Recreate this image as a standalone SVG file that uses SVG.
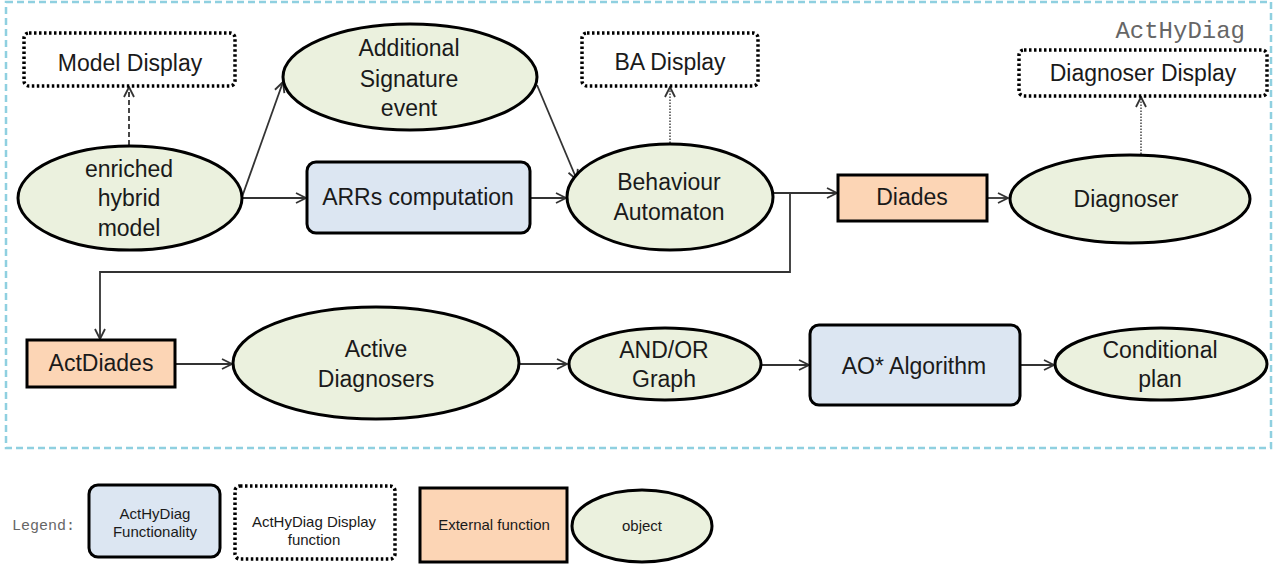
<svg xmlns="http://www.w3.org/2000/svg" width="1282" height="569" viewBox="0 0 1282 569">
<style>
.t{font-family:"Liberation Sans",Arial,sans-serif;font-size:23px;fill:#1a1a1a;text-anchor:middle}
.s{font-family:"Liberation Sans",Arial,sans-serif;font-size:15px;fill:#1a1a1a;text-anchor:middle}
.obj{fill:#ebf1de;stroke:#000;stroke-width:3}
.fun{fill:#dce6f2;stroke:#000;stroke-width:3}
.ext{fill:#fcd5b5;stroke:#000;stroke-width:3}
.dsp{fill:#fff;stroke:#000;stroke-width:3.5;stroke-dasharray:2.5 2.5}
.c{fill:none;stroke:#333;stroke-width:1.8;marker-end:url(#a)}
.cd{fill:none;stroke:#333;stroke-width:1.8;stroke-dasharray:5 3;marker-end:url(#a)}
.cdt{fill:none;stroke:#444;stroke-width:1.5;stroke-dasharray:1.5 1.5;marker-end:url(#a)}
.mono{font-family:"Liberation Mono","Courier New",monospace;fill:#666}
</style>
<defs>
<marker id="a" markerUnits="userSpaceOnUse" markerWidth="14" markerHeight="14" refX="11" refY="6" orient="auto">
<path d="M1,1 L11,6 L1,11" fill="none" stroke="#333" stroke-width="1.8"/>
</marker>
</defs>
<rect x="6" y="2" width="1265" height="446" fill="none" stroke="#8fd0e0" stroke-width="2.5" stroke-dasharray="7 4"/>
<text class="mono" x="1245" y="38" font-size="24" text-anchor="end">ActHyDiag</text>

<g id="connectors">
<path class="cd" d="M129,145 V87"/>
<path class="c" d="M242,197 L283,82"/>
<path class="c" d="M242,198 H306"/>
<path class="c" d="M537,85 L577,180"/>
<path class="c" d="M530,198 H566"/>
<path class="cdt" d="M670,143 V87"/>
<path class="c" d="M773,193 H837"/>
<path class="c" d="M790,193 V272 H100 V339"/>
<path class="c" d="M987,198 H1008"/>
<path class="cdt" d="M1141,154 V97"/>
<path class="c" d="M175,364 H232"/>
<path class="c" d="M519,364 H567"/>
<path class="c" d="M761,365 H809"/>
<path class="c" d="M1020,365 H1054"/>
</g>

<g id="model-display"><rect class="dsp" x="24" y="33" width="211" height="53" rx="5"/><text class="t" x="130" y="71">Model Display</text></g>
<g id="additional-signature-event"><ellipse class="obj" cx="410" cy="77" rx="127" ry="53"/><text class="t" x="409" y="56">Additional</text><text class="t" x="409" y="87">Signature</text><text class="t" x="409" y="116">event</text></g>
<g id="ba-display"><rect class="dsp" x="582" y="33" width="176" height="53" rx="5"/><text class="t" x="670" y="70">BA Display</text></g>
<g id="diagnoser-display"><rect class="dsp" x="1019" y="50" width="248" height="46" rx="5"/><text class="t" x="1143" y="81">Diagnoser Display</text></g>
<g id="enriched-hybrid-model"><ellipse class="obj" cx="130" cy="198" rx="112" ry="52"/><text class="t" x="129" y="177">enriched</text><text class="t" x="129" y="206">hybrid</text><text class="t" x="129" y="236">model</text></g>
<g id="arrs-computation"><rect class="fun" x="307" y="162" width="223" height="71" rx="9"/><text class="t" x="418" y="205">ARRs computation</text></g>
<g id="behaviour-automaton"><ellipse class="obj" cx="670" cy="197" rx="103" ry="53"/><text class="t" x="669" y="190">Behaviour</text><text class="t" x="669" y="220">Automaton</text></g>
<g id="diades"><rect class="ext" x="838" y="175" width="149" height="46"/><text class="t" x="912" y="205">Diades</text></g>
<g id="diagnoser"><ellipse class="obj" cx="1130" cy="199" rx="120" ry="44"/><text class="t" x="1126" y="207">Diagnoser</text></g>
<g id="actdiades"><rect class="ext" x="27" y="340" width="148" height="47"/><text class="t" x="101" y="371">ActDiades</text></g>
<g id="active-diagnosers"><ellipse class="obj" cx="376" cy="363" rx="143" ry="56"/><text class="t" x="376" y="357">Active</text><text class="t" x="376" y="387">Diagnosers</text></g>
<g id="and-or-graph"><ellipse class="obj" cx="665" cy="364" rx="96" ry="36"/><text class="t" x="664" y="358">AND/OR</text><text class="t" x="664" y="387">Graph</text></g>
<g id="ao-algorithm"><rect class="fun" x="810" y="325" width="210" height="80" rx="9"/><text class="t" x="914" y="374">AO* Algorithm</text></g>
<g id="conditional-plan"><ellipse class="obj" cx="1161" cy="364" rx="106" ry="36"/><text class="t" x="1160" y="358">Conditional</text><text class="t" x="1160" y="387">plan</text></g>

<g id="legend">
<text class="mono" x="12" y="530" font-size="15" fill="#444">Legend:</text>
<rect class="fun" x="89" y="485" width="131" height="72" rx="9"/><text class="s" x="155" y="519">ActHyDiag</text><text class="s" x="155" y="537">Functionality</text>
<rect class="dsp" x="235" y="486" width="160" height="73" rx="5"/><text class="s" x="314" y="527">ActHyDiag Display</text><text class="s" x="314" y="545">function</text>
<rect class="ext" x="420" y="488" width="147" height="74"/><text class="s" x="494" y="530">External function</text>
<ellipse class="obj" cx="642" cy="526" rx="70" ry="36"/><text class="s" x="642" y="531">object</text>
</g>
</svg>
